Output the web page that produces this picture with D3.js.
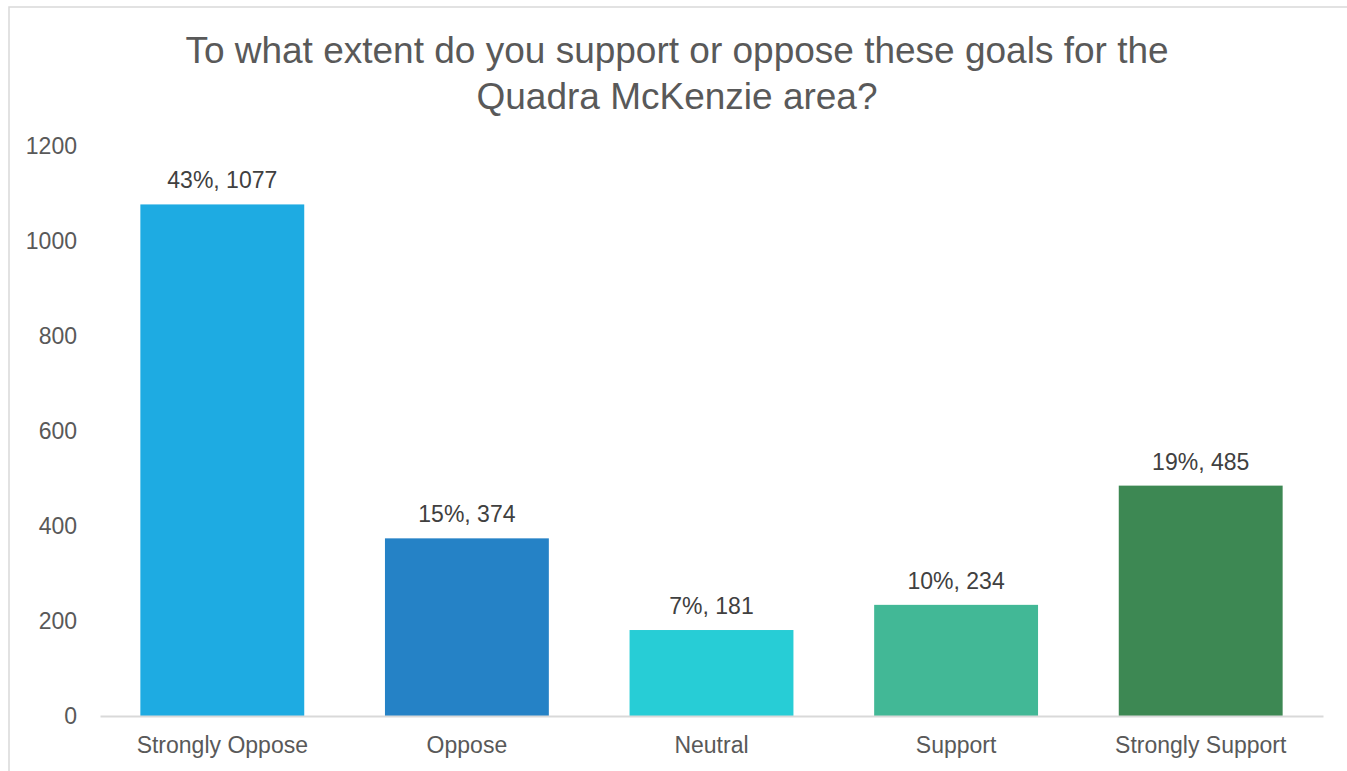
<!DOCTYPE html>
<html><head><meta charset="utf-8">
<script src="https://cdn.jsdelivr.net/npm/d3@7"></script>
<style>html,body{margin:0;padding:0;background:#fff;}svg{display:block;}</style>
</head><body>
<script>
const categories = ["Strongly Oppose", "Oppose", "Neutral", "Support", "Strongly Support"];
const counts = [1077, 374, 181, 234, 485];
const percents = ["43%", "15%", "7%", "10%", "19%"];
const colors = ["#1EABE2", "#2582C6", "#27CDD6", "#42B896", "#3D8853"];
const yTicks = [0, 200, 400, 600, 800, 1000, 1200];
const titleLines = ["To what extent do you support or oppose these goals for the", "Quadra McKenzie area?"];

const W = 1347, H = 771;
const svg = d3.select("body").append("svg").attr("width", W).attr("height", H);
svg.append("rect").attr("x", 9).attr("y", 7).attr("width", W).attr("height", H)
  .attr("fill", "#fff").attr("stroke", "#d9d9d9").attr("stroke-width", 1.5);

const font = "'Liberation Sans', Arial, sans-serif";
const x = d3.scaleBand().domain(categories).range([100, 1323]).paddingInner(0.33).paddingOuter(0.165);
const y = d3.scaleLinear().domain([0, 1200]).range([716, 146]);

svg.append("g").selectAll("text").data(titleLines).join("text")
  .attr("x", 677).attr("y", (d, i) => 63 + i * 46)
  .attr("text-anchor", "middle").attr("font-family", font).attr("font-size", 37)
  .attr("fill", "#595959").text(d => d);

const yAxis = svg.append("g").attr("transform", "translate(100,0)")
  .call(d3.axisLeft(y).tickValues(yTicks).tickFormat(d3.format("d")).tickSize(0).tickPadding(23));
yAxis.select(".domain").remove();
yAxis.selectAll("text").attr("font-family", font).attr("font-size", 23).attr("fill", "#595959");

svg.append("g").selectAll("rect").data(categories).join("rect")
  .attr("x", d => x(d)).attr("width", x.bandwidth())
  .attr("y", (d, i) => y(counts[i])).attr("height", (d, i) => y(0) - y(counts[i]))
  .attr("fill", (d, i) => colors[i]);

const xAxis = svg.append("g").attr("transform", "translate(0,716)")
  .call(d3.axisBottom(x).tickSize(0).tickPadding(21));
xAxis.select(".domain").attr("stroke", "#d9d9d9").attr("stroke-width", 2);
xAxis.selectAll("text").attr("font-family", font).attr("font-size", 23).attr("fill", "#595959");

svg.append("g").selectAll("text").data(categories).join("text")
  .attr("x", d => x(d) + x.bandwidth() / 2)
  .attr("y", (d, i) => y(counts[i]) - 16)
  .attr("text-anchor", "middle").attr("font-family", font).attr("font-size", 23)
  .attr("fill", "#404040").text((d, i) => percents[i] + ", " + counts[i]);
</script>
</body></html>
